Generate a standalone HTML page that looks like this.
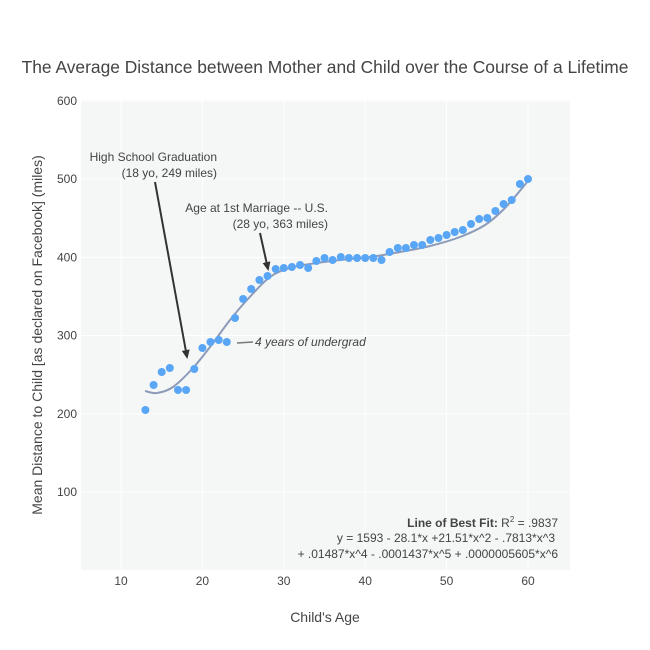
<!DOCTYPE html>
<html><head><meta charset="utf-8"><style>body{margin:0;background:#fff}svg{display:block}text{font-family:"Liberation Sans",sans-serif;fill:#444}</style></head>
<body>
<svg width="650" height="650" viewBox="0 0 650 650">
<defs><marker id="ah" markerWidth="10" markerHeight="10" refX="7" refY="5" orient="auto" markerUnits="userSpaceOnUse"><path d="M0,1 L9,5 L0,9 z" fill="#333"/></marker></defs>
<rect x="81" y="100" width="489" height="470" fill="#f5f6f6"/>
<g stroke="#fff" stroke-width="1">
<line x1="121" y1="100" x2="121" y2="570"/><line x1="202.4" y1="100" x2="202.4" y2="570"/><line x1="283.8" y1="100" x2="283.8" y2="570"/><line x1="365.2" y1="100" x2="365.2" y2="570"/><line x1="446.6" y1="100" x2="446.6" y2="570"/><line x1="528" y1="100" x2="528" y2="570"/>
<line x1="81" y1="492" x2="570" y2="492"/><line x1="81" y1="414" x2="570" y2="414"/><line x1="81" y1="335.5" x2="570" y2="335.5"/><line x1="81" y1="257.5" x2="570" y2="257.5"/><line x1="81" y1="179" x2="570" y2="179"/><line x1="81" y1="101" x2="570" y2="101"/>
</g>
<g font-size="12" text-anchor="middle">
<text x="121" y="585">10</text><text x="202.4" y="585">20</text><text x="283.8" y="585">30</text><text x="365.2" y="585">40</text><text x="446.6" y="585">50</text><text x="528" y="585">60</text>
</g>
<g font-size="12" text-anchor="end">
<text x="77" y="496">100</text><text x="77" y="418">200</text><text x="77" y="339.5">300</text><text x="77" y="261.5">400</text><text x="77" y="183">500</text><text x="77" y="105">600</text>
</g>
<text x="325" y="73" font-size="17.4" text-anchor="middle">The Average Distance between Mother and Child over the Course of a Lifetime</text>
<text x="325" y="622" font-size="14" text-anchor="middle">Child's Age</text>
<text transform="translate(42,335) rotate(-90)" font-size="14" text-anchor="middle">Mean Distance to Child [as declared on Facebook] (miles)</text>
<path id="fit" d="" fill="none" stroke="#8b9bb8" stroke-width="2"/>
<g fill="#5aa6f6" id="pts"></g>
<line x1="155" y1="182" x2="187" y2="357" stroke="#333" stroke-width="2" marker-end="url(#ah)"/>
<line x1="260" y1="233" x2="268" y2="269" stroke="#333" stroke-width="2" marker-end="url(#ah)"/>
<line x1="237" y1="343" x2="253" y2="342" stroke="#777" stroke-width="1.5"/>
<text x="255" y="346" font-size="12" font-style="italic">4 years of undergrad</text>
<g font-size="12" text-anchor="end">
<text x="217" y="161">High School Graduation</text>
<text x="217" y="177">(18 yo, 249 miles)</text>
<text x="328" y="212">Age at 1st Marriage -- U.S.</text>
<text x="328" y="228">(28 yo, 363 miles)</text>
<text x="558" y="527"><tspan font-weight="bold">Line of Best Fit:</tspan> R<tspan font-size="8" dy="-5">2</tspan><tspan dy="5"> = .9837</tspan></text>
<text x="555" y="542">y = 1593 - 28.1*x +21.51*x^2 - .7813*x^3</text>
<text x="558" y="558">+ .01487*x^4 - .0001437*x^5 + .0000005605*x^6</text>
</g>
</svg>
<script>
var ys=[410,385,372,368,390,390,369,348,342,340,342,318,299,289,280,276,269,268,267,265,268,261,258,260,257,258,258,258,258,260,252,248,248,245,245,240,238,235,232,230,224,219,218,211,204,200,184,179];
var g=document.getElementById('pts'),s='';
ys.forEach(function(y,i){var x=121+(13+i-10)*8.14;s+='<circle cx="'+x.toFixed(1)+'" cy="'+y+'" r="4"/>';});
g.innerHTML=s;
var P=[[145,391],[157,393],[173,387],[193,368],[210,347],[230,320],[247,300],[270,277],[290,268],[310,264],[340,260],[370,257],[400,252],[430,246],[460,237],[485,225],[505,208],[528,181]];
var d='M'+P[0][0]+','+P[0][1];
for(var i=0;i<P.length-1;i++){var p0=P[Math.max(i-1,0)],p1=P[i],p2=P[i+1],p3=P[Math.min(i+2,P.length-1)];
d+=' C'+(p1[0]+(p2[0]-p0[0])/6).toFixed(1)+','+(p1[1]+(p2[1]-p0[1])/6).toFixed(1)+' '+(p2[0]-(p3[0]-p1[0])/6).toFixed(1)+','+(p2[1]-(p3[1]-p1[1])/6).toFixed(1)+' '+p2[0]+','+p2[1];}
document.getElementById('fit').setAttribute('d',d);
</script>
</body></html>
